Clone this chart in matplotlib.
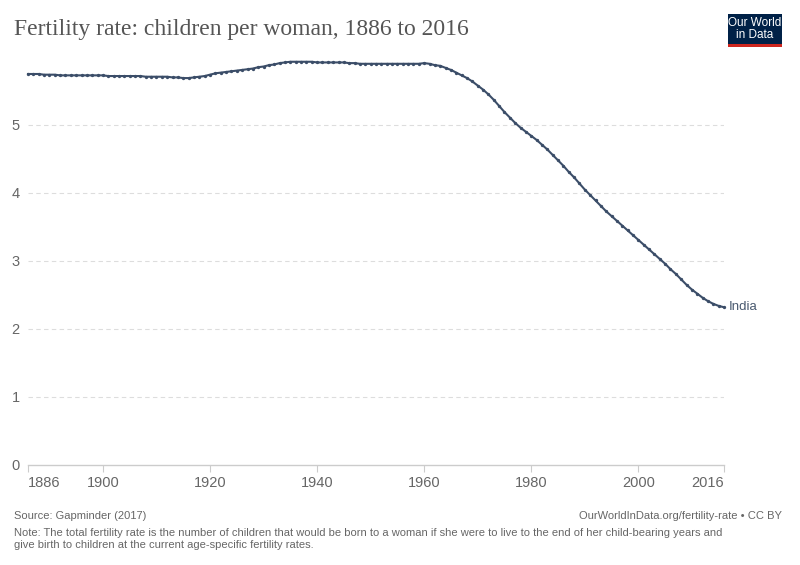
import matplotlib
matplotlib.use("Agg")
from matplotlib import pyplot as plt
import matplotlib.patches as patches

years = list(range(1886, 2017))
fertility = [
    5.75, 5.75, 5.75, 5.74, 5.74, 5.74, 5.73, 5.73, 5.73, 5.73,  # 1886-1895
    5.73, 5.73, 5.73, 5.73, 5.73, 5.72, 5.72, 5.72, 5.72, 5.72,  # 1896-1905
    5.72, 5.72, 5.71, 5.71, 5.71, 5.71, 5.71, 5.70, 5.70, 5.69,  # 1906-1915
    5.69, 5.70, 5.71, 5.72, 5.74, 5.76, 5.77, 5.78, 5.79, 5.80,  # 1916-1925
    5.81, 5.82, 5.83, 5.85, 5.86, 5.88, 5.89, 5.91, 5.92, 5.93,  # 1926-1935
    5.93, 5.93, 5.93, 5.93, 5.92, 5.92, 5.92, 5.92, 5.92, 5.92,  # 1936-1945
    5.91, 5.91, 5.90, 5.90, 5.90, 5.90, 5.90, 5.90, 5.90, 5.90,  # 1946-1955
    5.90, 5.90, 5.90, 5.90, 5.91, 5.90, 5.88, 5.87, 5.84, 5.81,  # 1956-1965
    5.77, 5.73, 5.69, 5.64, 5.58, 5.52, 5.45, 5.37, 5.28, 5.19,  # 1966-1975
    5.11, 5.03, 4.96, 4.90, 4.84, 4.78, 4.71, 4.64, 4.56, 4.48,  # 1976-1985
    4.40, 4.31, 4.23, 4.14, 4.05, 3.97, 3.89, 3.81, 3.73, 3.66,  # 1986-1995
    3.59, 3.52, 3.45, 3.38, 3.31, 3.24, 3.17, 3.10, 3.03, 2.96,  # 1996-2005
    2.88, 2.81, 2.73, 2.65, 2.58, 2.52, 2.46, 2.41, 2.37, 2.34,  # 2006-2015
    2.32,                                                        # 2016
]
country = "India"

x_ticks = [1886, 1900, 1920, 1940, 1960, 1980, 2000, 2016]
y_ticks = [0, 1, 2, 3, 4, 5]

title = "Fertility rate: children per woman, 1886 to 2016"
source = "Source: Gapminder (2017)"
url = "OurWorldInData.org/fertility-rate • CC BY"
note = ("Note: The total fertility rate is the number of children that would be born to a woman if she were to live to the end of her child-bearing years and\n"
        "give birth to children at the current age-specific fertility rates.")

W, H = 800, 565
LINE_COLOR = "#3b4d68"
TEXT_GREY = "#666666"

plt.rcParams["font.family"] = ["Liberation Sans", "DejaVu Sans"]

fig = plt.figure(figsize=(W / 100, H / 100), dpi=100)
fig.patch.set_facecolor("white")

# axes in pixel coordinates: left 28, right 724, bottom 465
ax_left, ax_right, ax_bottom = 28, 724, 465
y_top_val = 5.95
px_per_unit = 68
ax_top = ax_bottom - y_top_val * px_per_unit
ax = fig.add_axes([ax_left / W, 1 - ax_bottom / H,
                   (ax_right - ax_left) / W, (ax_bottom - ax_top) / H])

ax.plot(years, fertility, color=LINE_COLOR, lw=1.5, marker="o",
        markersize=2.4, markeredgewidth=0, zorder=3, clip_on=False)

ax.set_xlim(1886, 2016)
ax.set_ylim(0, y_top_val)

for s in ["top", "right", "left"]:
    ax.spines[s].set_visible(False)
ax.spines["bottom"].set_color("#cccccc")
ax.spines["bottom"].set_linewidth(1)

ax.set_yticks(y_ticks)
ax.set_yticklabels([str(v) for v in y_ticks])
ax.tick_params(axis="y", length=0, pad=6, labelsize=10.5, labelcolor=TEXT_GREY)
ax.set_xticks(x_ticks)
ax.set_xticklabels([str(v) for v in x_ticks])
ax.tick_params(axis="x", length=5, color="#cccccc", pad=3, labelsize=10.5,
               labelcolor=TEXT_GREY)
xlabels = ax.get_xticklabels()
xlabels[0].set_horizontalalignment("left")
xlabels[-1].set_horizontalalignment("right")

for v in y_ticks[1:]:
    ax.axhline(v, color="#dddddd", lw=0.8, ls=(0, (4, 3)), zorder=1)

ax.text(2016 + 0.9, fertility[-1], country, color="#4a5a70", fontsize=9.5,
        va="center", ha="left", clip_on=False)

# title
fig.text(14 / W, 1 - 29 / H, title, fontsize=17, color="#555555",
         family=["Liberation Serif", "DejaVu Serif"], va="center", ha="left")

# logo
logo_x, logo_y, logo_w, logo_h = 728, 14, 54, 30
fig.patches.append(patches.Rectangle((logo_x / W, 1 - (logo_y + logo_h) / H),
                                     logo_w / W, logo_h / H,
                                     transform=fig.transFigure,
                                     facecolor="#002147", edgecolor="none"))
fig.patches.append(patches.Rectangle((logo_x / W, 1 - (logo_y + logo_h + 3) / H),
                                     logo_w / W, 3 / H,
                                     transform=fig.transFigure,
                                     facecolor="#ce261e", edgecolor="none"))
fig.text((logo_x + logo_w / 2) / W, 1 - (logo_y + logo_h / 2) / H,
         "Our World\nin Data", color="white", fontsize=8.5, ha="center",
         va="center", linespacing=0.9, family=["Liberation Sans Narrow", "Liberation Sans"])

# footer
fig.text(14 / W, 1 - 516 / H, source, fontsize=8, color=TEXT_GREY,
         va="center", ha="left")
fig.text(782 / W, 1 - 516 / H, url, fontsize=8, color=TEXT_GREY,
         va="center", ha="right")
fig.text(14 / W, 1 - 539 / H, note, fontsize=8, color=TEXT_GREY,
         va="center", ha="left", linespacing=1.15)

fig.savefig("out.png", dpi=100)
